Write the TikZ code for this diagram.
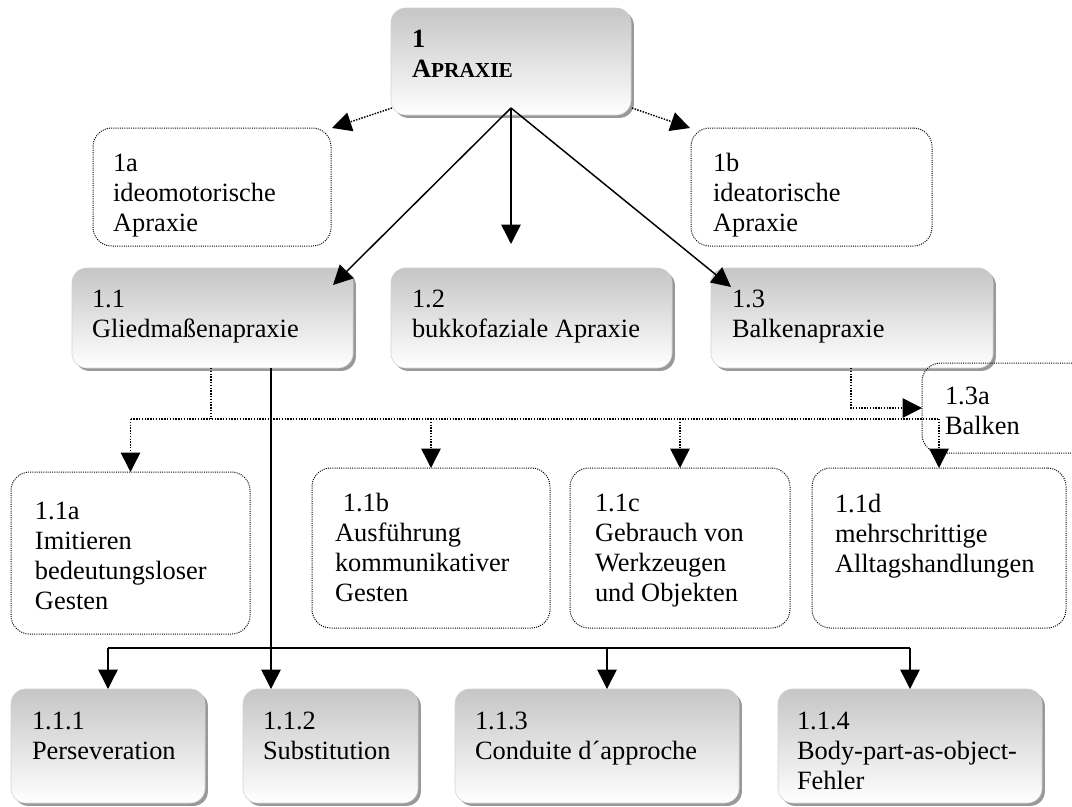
\documentclass[tikz,border=0pt]{standalone}
\usepackage{fontspec}
\setmainfont{Liberation Serif}
\usetikzlibrary{arrows.meta,calc,shadows}

% box by its left, top, right, bottom edges (in px units)
\newcommand{\mkbox}[6]{%
  \node[#1, minimum width={(#5-#3)*0.75pt}, minimum height={(#6-#4)*0.75pt}]
    (#2) at ({(#3+#5)/2},{(#4+#6)/2}) {};}

\begin{document}
\begin{tikzpicture}[x=0.75pt,y=-0.75pt,
  every node/.style={inner sep=0pt,outer sep=0pt},
  shadebox/.style={draw=gray!35,line width=0.4pt,rounded corners=11pt,
    top color=gray!45,bottom color=white,
    drop shadow={shadow xshift=2.2pt,shadow yshift=-2.2pt,fill=black!40,opacity=1}},
  dotbox/.style={draw=black,line width=0.75pt,dash pattern=on 0.75pt off 0.9pt,
    rounded corners=14pt},
  txt/.style={anchor=north west,align=left,font=\fontsize{19.8pt}{22.5pt}\selectfont},
  tip/.style={-{Triangle[length=14.5pt,width=14.5pt]}},
  link/.style={line width=1.1pt},
  dotline/.style={line width=1.1pt,dash pattern=on 1.1pt off 1pt},
]
\useasboundingbox (0,0) rectangle (1072,807);
\clip (0,0) rectangle (1072,807);

% ---------- boxes ----------
\mkbox{shadebox}{n1}{391}{8}{631}{115}
\mkbox{dotbox}{n1a}{93}{128}{331}{246}
\mkbox{dotbox}{n1b}{691}{128}{932}{246}

\mkbox{shadebox}{n11}{72}{268}{353}{368}
\mkbox{shadebox}{n12}{391}{268}{672}{368}
\mkbox{shadebox}{n13}{711}{268}{993}{368}
\mkbox{dotbox}{n13a}{922}{363}{1095}{453}

\mkbox{dotbox}{n11a}{11}{472}{250}{634}
\mkbox{dotbox}{n11b}{312}{468}{550}{628}
\mkbox{dotbox}{n11c}{570}{468}{790}{628}
\mkbox{dotbox}{n11d}{812}{468}{1066}{628}

\mkbox{shadebox}{n111}{11}{689}{205}{803}
\mkbox{shadebox}{n112}{243}{689}{418}{803}
\mkbox{shadebox}{n113}{455}{689}{739}{803}
\mkbox{shadebox}{n114}{778}{689}{1042}{803}

% ---------- texts ----------
\node[txt] (t1) at ($(n1.north west)+(21,18)$)
  {\strut\bfseries 1\\\bfseries A{\fontsize{16pt}{22.5pt}\selectfont PRAXIE}};
\node[txt] (t1a) at ($(n1a.north west)+(20,22)$) {\strut 1a\\ideomotorische\\Apraxie};
\node[txt] (t1b) at ($(n1b.north west)+(22,22)$) {\strut 1b\\ideatorische\\Apraxie};
\node[txt] (t11) at ($(n11.north west)+(20,18)$) {\strut 1.1\\Gliedmaßenapraxie};
\node[txt] (t12) at ($(n12.north west)+(21,18)$) {\strut 1.2\\bukkofaziale Apraxie};
\node[txt] (t13) at ($(n13.north west)+(21,18)$) {\strut 1.3\\Balkenapraxie};
\node[txt] (t13a) at ($(n13a.north west)+(23,20)$) {\strut 1.3a\\Balken};
\node[txt] (t11a) at ($(n11a.north west)+(24,26)$) {\strut 1.1a\\Imitieren\\bedeutungsloser\\Gesten};
\node[txt] (t11b) at ($(n11b.north west)+(23,22)$) {\strut\hspace*{0.3em}1.1b\\Ausführung\\kommunikativer\\Gesten};
\node[txt] (t11c) at ($(n11c.north west)+(25,22)$) {\strut 1.1c\\Gebrauch von\\Werkzeugen\\und Objekten};
\node[txt] (t11d) at ($(n11d.north west)+(23,23)$) {\strut 1.1d\\mehrschrittige\\Alltagshandlungen};
\node[txt] (t111) at ($(n111.north west)+(21,19)$) {\strut 1.1.1\\Perseveration};
\node[txt] (t112) at ($(n112.north west)+(20,19)$) {\strut 1.1.2\\Substitution};
\node[txt] (t113) at ($(n113.north west)+(20,19)$) {\strut 1.1.3\\Conduite d´approche};
\node[txt] (t114) at ($(n114.north west)+(19,19)$) {\strut 1.1.4\\Body-part-as-object-\\Fehler};

% ---------- connectors from the root ----------
\coordinate (apex) at ($(n1.south)+(0,-7)$);
\draw[link,tip] (apex) -- ($(n11.north east)+(-20,17)$);
\draw[link,tip] (apex) -- ($(apex |- n12.north)+(0,-24)$);
\draw[link,tip] (apex) -- ($(n13.north west)+(20,19)$);
\draw[dotline,tip] ($(n1.south west)+(1,-7)$) -- ($(n1a.north east)+(1,0)$);
\draw[dotline,tip] ($(n1.south east)+(1,-7)$) -- ($(n1b.north west)+(-1,0)$);

% ---------- 1.3 to 1.3a ----------
\coordinate (d3) at ($(n13.south west)+(140,0)$);
\draw[dotline,tip] (d3) |- (n13a.west);

% ---------- dotted bus below 1.1 ----------
\coordinate (d0) at ($(n11.south west)+(139,0)$);
\coordinate (bus1) at (0,419);
\draw[dotline] (d0) -- (d0 |- bus1);
\draw[dotline] (n11a.north |- bus1) -- (n11d.north |- bus1);
\foreach \n in {n11a,n11b,n11c,n11d}
  \draw[dotline,tip] (\n.north |- bus1) -- (\n.north);

% ---------- solid bus below 1.1 ----------
\coordinate (d1) at ($(n11.south west)+(199,0)$);
\coordinate (bus2) at (0,648);
\coordinate (d113) at ($(n113.north west)+(152,0)$);
\draw[link,tip] (d1) -- (d1 |- n112.north);
\draw[link] (n111.north |- bus2) -- (n114.north |- bus2);
\draw[link,tip] (n111.north |- bus2) -- (n111.north);
\draw[link,tip] (d113 |- bus2) -- (d113);
\draw[link,tip] (n114.north |- bus2) -- (n114.north);
\end{tikzpicture}
\end{document}
